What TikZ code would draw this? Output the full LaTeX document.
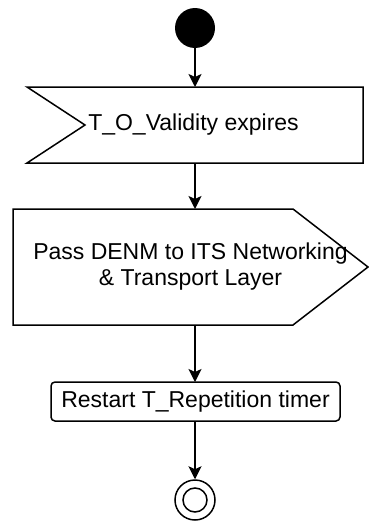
\documentclass[tikz,border=0pt]{standalone}
\usepackage{fontspec}
\setmainfont{Liberation Sans}
\usetikzlibrary{calc,arrows.meta}

\begin{document}
\begin{tikzpicture}[
        x=1pt, y=-1pt,
        txt/.style={font=\fontsize{23}{26}\selectfont, inner sep=0pt, outer sep=0pt, align=center},
        outline/.style={draw=black, line width=1.5pt, line join=miter},
        flow/.style={draw=black, line width=1.6pt, -{Stealth[length=13pt, width=13pt, inset=3pt]}},
      ]
      \useasboundingbox (0,0) rectangle (369,522);

      % Initial state
      \node[circle, fill=black, minimum size=40pt, inner sep=0pt] (start) at (195,28) {};

      % Event box with notch on the left
      \node[txt, minimum width=336pt, minimum height=76pt] (expire) at (195,125)
        {T\_O\_Validity expires\hspace*{3pt}};
      \draw[outline] (expire.north west) -- (expire.north east) -- (expire.south east)
        -- (expire.south west) -- ($(expire.west)+(58,0)$) -- cycle;

      % Send box pointing right
      \node[txt, minimum width=355pt, minimum height=116pt] (pass) at (190.5,267)
        {Pass DENM to ITS Networking\\\& Transport Layer};
      \draw[outline] (pass.north west) -- ($(pass.north east)+(-75,0)$) -- (pass.east)
        -- ($(pass.south east)+(-75,0)$) -- (pass.south west) -- cycle;

      % Action
      \node[txt, draw, line width=1.5pt, rounded corners=4pt, minimum width=289pt,
            minimum height=39pt] (restart) at (195.5,401.5) {Restart T\_Repetition timer};

      % Final state
      \node[circle, draw, line width=1.5pt, minimum size=40pt, inner sep=0pt] (stop) at (195,500) {};
      \draw[line width=1.5pt] (stop.center) circle (12pt);

      % Connectors
      \draw[flow] (start) -- (expire.north -| start);
      \draw[flow] (expire.south -| start) -- (pass.north -| start);
      \draw[flow] (pass.south -| start) -- (restart.north -| start);
      \draw[flow] (restart.south -| start) -- (stop);
    \end{tikzpicture}
\end{document}
